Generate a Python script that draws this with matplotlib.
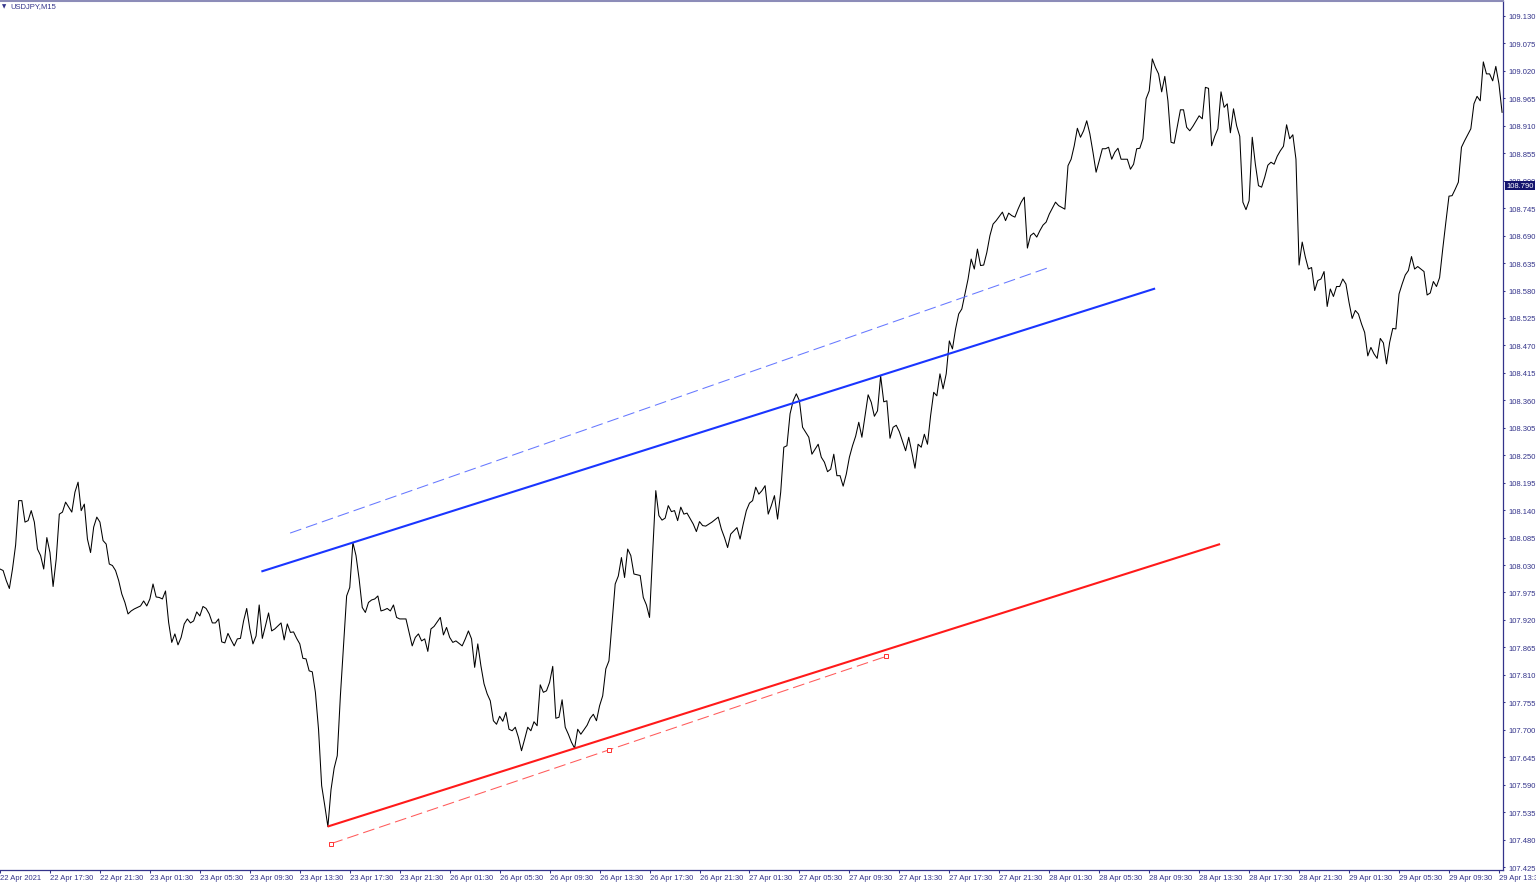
import matplotlib
matplotlib.use("Agg")
import matplotlib.pyplot as plt
import matplotlib.transforms as mtransforms

# ----------------------------------------------------------------------
# DATA (x = bar index, 15 min bars)
# ----------------------------------------------------------------------
symbol_label = "USDJPY,M15"
last_price = 108.790

close_by_bar = [
    (0, 108.022), (1, 108.019), (2, 107.999), (3, 107.983), (4, 108.022), (5, 108.070),
    (6, 108.159), (7, 108.159), (8, 108.116), (9, 108.119), (10, 108.139), (11, 108.116),
    (12, 108.062), (13, 108.049), (14, 108.022), (15, 108.085), (16, 108.055), (17, 107.987),
    (18, 108.042), (19, 108.132), (20, 108.136), (21, 108.156), (22, 108.146), (23, 108.136),
    (24, 108.176), (25, 108.196), (26, 108.139), (27, 108.152), (28, 108.082), (29, 108.055),
    (30, 108.106), (31, 108.126), (32, 108.116), (33, 108.079), (34, 108.072), (35, 108.032),
    (36, 108.029), (37, 108.019), (38, 107.999), (39, 107.972), (40, 107.955), (41, 107.932),
    (42, 107.938), (43, 107.942), (45, 107.948), (46, 107.958), (47, 107.948), (48, 107.962),
    (49, 107.992), (50, 107.966), (51, 107.965), (52, 107.962), (53, 107.978), (54, 107.915),
    (55, 107.875), (56, 107.892), (57, 107.870), (58, 107.885), (59, 107.912), (60, 107.922),
    (61, 107.914), (62, 107.918), (63, 107.936), (64, 107.928), (65, 107.947), (66, 107.943),
    (67, 107.932), (68, 107.914), (69, 107.914), (70, 107.922), (71, 107.876), (72, 107.874),
    (73, 107.893), (74, 107.880), (75, 107.868), (76, 107.882), (77, 107.883), (78, 107.918),
    (79, 107.943), (80, 107.902), (81, 107.872), (82, 107.888), (83, 107.950), (84, 107.883),
    (85, 107.908), (86, 107.934), (87, 107.898), (88, 107.902), (90, 107.914), (91, 107.880),
    (92, 107.912), (93, 107.895), (94, 107.896), (95, 107.883), (96, 107.872), (97, 107.843),
    (98, 107.842), (99, 107.818), (100, 107.816), (101, 107.775), (102, 107.701), (103, 107.588),
    (104, 107.548), (105, 107.506), (106, 107.580), (107, 107.623), (108, 107.648), (109, 107.768),
    (110, 107.868), (111, 107.968), (112, 107.985), (113, 108.075), (114, 108.049), (115, 108.002),
    (116, 107.945), (117, 107.935), (118, 107.955), (119, 107.960), (120, 107.962), (121, 107.968),
    (122, 107.938), (123, 107.940), (124, 107.943), (125, 107.938), (126, 107.950), (127, 107.925),
    (128, 107.922), (130, 107.922), (131, 107.895), (132, 107.868), (133, 107.885), (134, 107.892),
    (135, 107.878), (136, 107.882), (137, 107.857), (138, 107.902), (139, 107.907), (141, 107.925),
    (142, 107.890), (143, 107.905), (144, 107.885), (145, 107.875), (146, 107.878), (148, 107.868),
    (149, 107.882), (150, 107.898), (151, 107.882), (152, 107.825), (153, 107.872), (154, 107.828),
    (155, 107.792), (156, 107.772), (157, 107.758), (158, 107.718), (159, 107.711), (160, 107.727),
    (161, 107.717), (162, 107.735), (163, 107.701), (164, 107.698), (165, 107.705), (166, 107.685),
    (167, 107.658), (168, 107.681), (169, 107.705), (170, 107.698), (171, 107.716), (172, 107.708),
    (173, 107.790), (174, 107.775), (175, 107.778), (176, 107.795), (177, 107.827), (178, 107.723),
    (179, 107.725), (180, 107.760), (181, 107.705), (182, 107.691), (183, 107.675), (184, 107.663),
    (185, 107.701), (186, 107.691), (187, 107.700), (188, 107.709), (189, 107.723), (190, 107.731),
    (191, 107.718), (192, 107.748), (193, 107.768), (194, 107.822), (195, 107.838), (196, 107.914),
    (197, 107.992), (198, 108.008), (199, 108.045), (200, 108.005), (201, 108.062), (202, 108.049),
    (203, 108.012), (205, 108.009), (206, 107.965), (207, 107.950), (208, 107.925), (209, 108.055),
    (210, 108.179), (211, 108.129), (212, 108.120), (213, 108.124), (214, 108.149), (215, 108.137),
    (216, 108.139), (217, 108.119), (218, 108.146), (219, 108.132), (220, 108.134), (222, 108.112),
    (223, 108.097), (224, 108.117), (225, 108.109), (226, 108.108), (228, 108.116), (230, 108.126),
    (231, 108.102), (232, 108.085), (233, 108.065), (234, 108.092), (236, 108.105), (237, 108.082),
    (238, 108.112), (239, 108.139), (240, 108.154), (241, 108.159), (242, 108.186), (243, 108.172),
    (244, 108.179), (245, 108.189), (246, 108.132), (247, 108.149), (248, 108.169), (249, 108.122),
    (250, 108.176), (251, 108.266), (252, 108.269), (253, 108.333), (254, 108.359), (255, 108.373),
    (256, 108.359), (257, 108.306), (259, 108.286), (260, 108.252), (261, 108.262), (262, 108.272),
    (263, 108.246), (264, 108.236), (265, 108.217), (266, 108.222), (267, 108.252), (268, 108.209),
    (269, 108.209), (270, 108.188), (271, 108.212), (272, 108.246), (273, 108.269), (274, 108.288),
    (275, 108.316), (276, 108.286), (278, 108.371), (279, 108.356), (280, 108.328), (281, 108.339),
    (282, 108.409), (283, 108.357), (284, 108.359), (285, 108.284), (286, 108.306), (287, 108.310),
    (288, 108.297), (290, 108.259), (291, 108.286), (292, 108.256), (293, 108.224), (294, 108.272),
    (295, 108.266), (296, 108.292), (297, 108.272), (298, 108.329), (299, 108.376), (300, 108.369),
    (301, 108.413), (302, 108.383), (303, 108.413), (304, 108.479), (305, 108.463), (306, 108.503),
    (307, 108.533), (308, 108.543), (309, 108.573), (310, 108.603), (311, 108.643), (312, 108.623),
    (313, 108.663), (314, 108.630), (315, 108.631), (316, 108.656), (317, 108.690), (318, 108.713),
    (319, 108.720), (321, 108.737), (322, 108.720), (323, 108.735), (324, 108.730), (325, 108.727),
    (326, 108.743), (327, 108.757), (328, 108.767), (329, 108.665), (330, 108.690), (331, 108.695),
    (332, 108.687), (333, 108.700), (334, 108.711), (335, 108.717), (336, 108.733), (338, 108.757),
    (339, 108.750), (341, 108.743), (342, 108.830), (343, 108.843), (344, 108.870), (345, 108.905),
    (346, 108.887), (347, 108.900), (348, 108.920), (349, 108.894), (350, 108.857), (351, 108.817),
    (352, 108.840), (353, 108.864), (354, 108.864), (355, 108.867), (356, 108.843), (357, 108.857),
    (358, 108.865), (359, 108.843), (361, 108.843), (362, 108.823), (363, 108.833), (364, 108.864),
    (365, 108.865), (366, 108.884), (367, 108.964), (368, 108.980), (369, 109.044), (370, 109.027),
    (371, 109.014), (372, 108.978), (373, 109.009), (374, 108.960), (375, 108.877), (376, 108.875),
    (378, 108.942), (379, 108.942), (380, 108.907), (381, 108.900), (382, 108.909), (384, 108.930),
    (385, 108.924), (386, 108.987), (387, 108.985), (388, 108.870), (389, 108.889), (390, 108.904),
    (391, 108.978), (392, 108.947), (393, 108.954), (394, 108.896), (395, 108.944), (396, 108.910),
    (397, 108.889), (398, 108.757), (399, 108.742), (400, 108.760), (401, 108.887), (402, 108.833),
    (403, 108.790), (404, 108.787), (405, 108.807), (406, 108.831), (407, 108.837), (408, 108.833),
    (409, 108.849), (410, 108.860), (411, 108.869), (412, 108.912), (413, 108.884), (414, 108.892),
    (415, 108.843), (416, 108.631), (417, 108.677), (418, 108.647), (419, 108.623), (420, 108.626),
    (421, 108.580), (422, 108.600), (423, 108.603), (424, 108.618), (425, 108.548), (426, 108.583),
    (427, 108.568), (428, 108.588), (429, 108.588), (430, 108.603), (431, 108.593), (432, 108.556),
    (433, 108.524), (434, 108.540), (435, 108.533), (436, 108.513), (437, 108.496), (438, 108.449),
    (439, 108.466), (440, 108.453), (441, 108.444), (442, 108.484), (443, 108.475), (444, 108.433),
    (445, 108.476), (446, 108.504), (447, 108.503), (448, 108.573), (449, 108.593), (450, 108.611),
    (451, 108.620), (452, 108.648), (453, 108.623), (454, 108.628), (455, 108.623), (456, 108.618),
    (457, 108.571), (458, 108.575), (459, 108.598), (460, 108.588), (461, 108.606), (462, 108.663),
    (463, 108.717), (464, 108.769), (465, 108.770), (466, 108.783), (467, 108.797), (468, 108.867),
    (469, 108.880), (470, 108.892), (471, 108.904), (472, 108.954), (473, 108.969), (474, 108.960),
    (475, 109.038), (476, 109.014), (477, 109.014), (478, 109.000), (479, 109.029), (480, 108.994),
    (481, 108.937),
]

# trend lines: (bar, price) of both anchor points
blue_solid = [(83.7, 108.017), (369.9, 108.584)]
blue_dashed = [(92.9, 108.094), (335.8, 108.626)]
red_solid = [(104.9, 107.506), (390.7, 108.072)]
red_dashed = [(106.1, 107.472), (283.8, 107.847)]

x_tick_labels = [
    "22 Apr 2021", "22 Apr 17:30", "22 Apr 21:30", "23 Apr 01:30", "23 Apr 05:30",
    "23 Apr 09:30", "23 Apr 13:30", "23 Apr 17:30", "23 Apr 21:30", "26 Apr 01:30",
    "26 Apr 05:30", "26 Apr 09:30", "26 Apr 13:30", "26 Apr 17:30", "26 Apr 21:30",
    "27 Apr 01:30", "27 Apr 05:30", "27 Apr 09:30", "27 Apr 13:30", "27 Apr 17:30",
    "27 Apr 21:30", "28 Apr 01:30", "28 Apr 05:30", "28 Apr 09:30", "28 Apr 13:30",
    "28 Apr 17:30", "28 Apr 21:30", "29 Apr 01:30", "29 Apr 05:30", "29 Apr 09:30",
    "29 Apr 13:30",
]
bars_per_label = 16
price_step = 0.055
price_first_tick = 107.425
n_price_ticks = 32

# ----------------------------------------------------------------------
# STYLE
# ----------------------------------------------------------------------
plt.rcParams["font.family"] = ["Liberation Sans", "DejaVu Sans"]
plt.rcParams["lines.scale_dashes"] = False

NAVY = "#33338a"
FONT_SIZE = 5.5

W, H = 1536, 887
fig = plt.figure(figsize=(W / 100, H / 100), dpi=100)
ax = fig.add_axes([0, 16 / H, 1503 / W, 869 / H])

bars = [b for b, _ in close_by_bar]
closes = [c for _, c in close_by_bar]
ax.plot(bars, closes, color="black", lw=0.75, zorder=3)

# trend lines
def xy(points):
    return [p[0] for p in points], [p[1] for p in points]

ax.plot(*xy(blue_solid), color="#1a35ff", lw=1.5, solid_capstyle="butt", zorder=4)
ax.plot(*xy(red_solid), color="#ff1a1a", lw=1.5, solid_capstyle="butt", zorder=4)
ax.plot(*xy(blue_dashed), color="#6678ff", lw=0.75, dashes=(8.5, 3.6), zorder=4)
ax.plot(*xy(red_dashed), color="#ff5a5a", lw=0.75, dashes=(8.5, 3.6), zorder=4)

# anchor squares of the selected (red dashed) line: ends + middle
rx, ry = xy(red_dashed)
ax.plot([rx[0], (rx[0] + rx[1]) / 2, rx[1]], [ry[0], (ry[0] + ry[1]) / 2, ry[1]],
        ls="none", marker="s", ms=3, mfc="white", mec="#ff3030", mew=0.7, zorder=5)

# ----------------------------------------------------------------------
# AXES
# ----------------------------------------------------------------------
ax.set_xlim(0, 481.3)
ax.set_ylim(107.419, 109.160)

x_ticks = [i * bars_per_label for i in range(len(x_tick_labels))]
ax.set_xticks(x_ticks, x_tick_labels, ha="left")

y_ticks = [round(price_first_tick + i * price_step, 3) for i in range(n_price_ticks)]
ax.yaxis.tick_right()
ax.set_yticks(y_ticks, [f"{v:.3f}" for v in y_ticks])

ax.tick_params(axis="x", direction="out", length=2.2, width=0.75, pad=0.5,
               colors=NAVY, labelsize=FONT_SIZE)
ax.tick_params(axis="y", direction="out", length=1.6, width=0.75, pad=2.2,
               colors=NAVY, labelsize=FONT_SIZE)

ax.spines["left"].set_visible(False)
ax.spines["right"].set_color(NAVY)
ax.spines["bottom"].set_color(NAVY)
ax.spines["right"].set_linewidth(0.9)
ax.spines["bottom"].set_linewidth(0.9)
ax.spines["top"].set_color("#8c8cb8")
ax.spines["top"].set_linewidth(1.5)

# current price tag on the right scale
trans = mtransforms.blended_transform_factory(ax.transAxes, ax.transData)
ax.text(1.0 + 3 / 1503, last_price, f"{last_price:.3f}", transform=trans,
        ha="left", va="center", color="white", fontsize=FONT_SIZE, zorder=10,
        clip_on=False,
        bbox=dict(facecolor="#14146e", edgecolor="none", pad=0.9))

# symbol caption in the top-left corner
fig.text(2 / W, 1 - 7 / H, "\u25bc", family="DejaVu Sans", fontsize=4,
         color=NAVY, ha="left", va="center")
fig.text(10 / W, 1 - 7 / H, symbol_label, fontsize=FONT_SIZE,
         color=NAVY, ha="left", va="center")

fig.savefig("out.png", dpi=100)
